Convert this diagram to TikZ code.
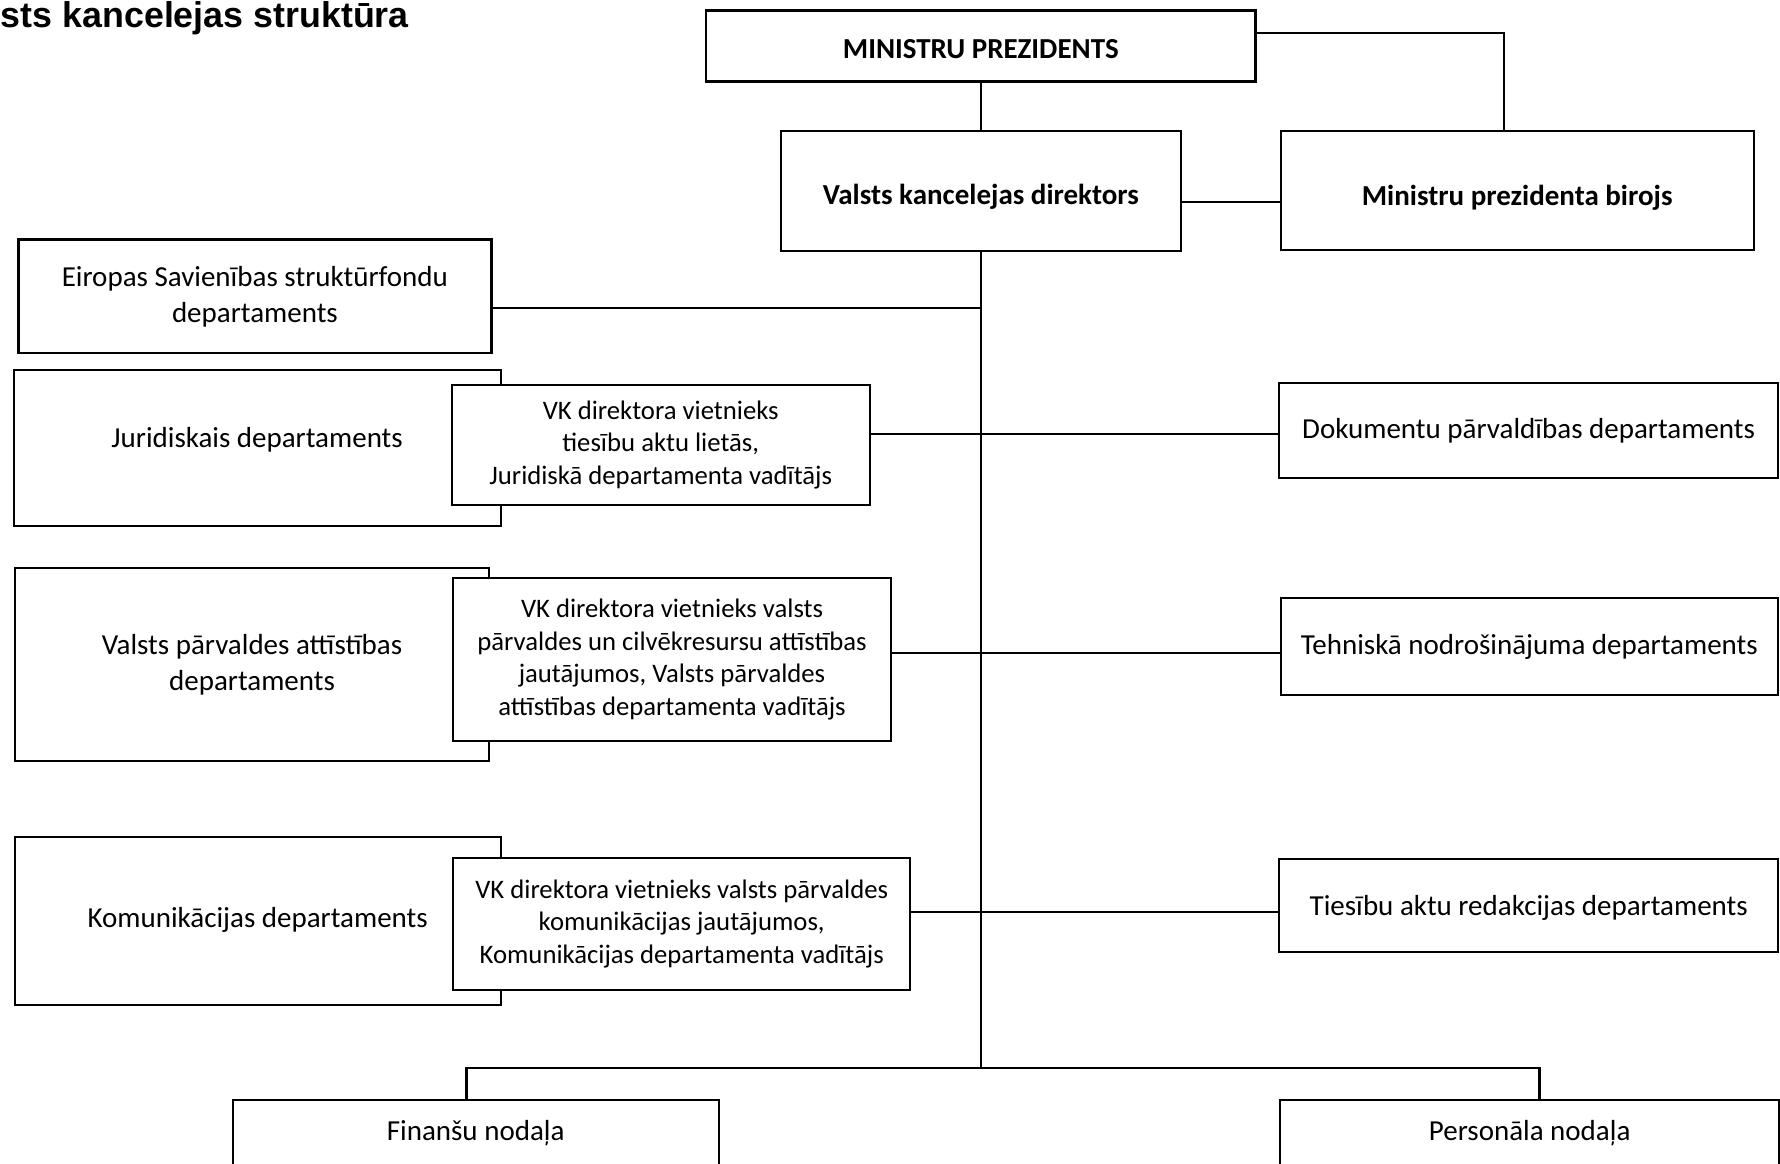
\documentclass[tikz,border=0pt]{standalone}
\usepackage{fontspec}
\setmainfont{Carlito}
\newfontfamily\titlefont{Liberation Sans}
\begin{document}
\begin{tikzpicture}[x=1pt,y=-1pt,
  box/.style={draw, line width=2pt, fill=white, inner sep=0pt, align=center,
              font=\fontsize{29}{36}\selectfont},
  boldbox/.style={box, font=\fontsize{29}{36}\selectfont\bfseries},
  vkbox/.style={box, font=\fontsize{26.7}{32.4}\selectfont},
  conn/.style={line width=2pt}]
\useasboundingbox (0,0) rectangle (1780,1163);
\clip (0,0) rectangle (1780,1163);
\fill[white] (0,0) rectangle (1780,1163);

% title
\node[anchor=base east, inner sep=0pt, font=\titlefont\bfseries\fontsize{35.8}{40}\selectfont] (title) at (409,27) {Valsts kancelejas struktūra};

% top
\node[boldbox, line width=2.8pt, minimum width=549.5pt, minimum height=71.5pt, text height=28pt, text depth=4pt] (mp) at (980.8,46) {MINISTRU PREZIDENTS};
\node[boldbox, minimum width=399.6pt, minimum height=120.4pt, text height=33.8pt, text depth=6pt] (vkd) at (980.8,190.7) {Valsts kancelejas direktors};
\node[boldbox, minimum width=473.4pt, minimum height=119.2pt, text height=35.8pt, text depth=6pt] (mpb) at (1517.2,190.1) {Ministru prezidenta birojs};

% left column
\node[box, line width=2.6pt, minimum width=473.3pt, minimum height=113.5pt] (eu) at (254.9,296.3) {Eiropas Savienības struktūrfondu\\departaments};
\node[box, line width=1.8pt, minimum width=487pt, minimum height=155.5pt, text height=20pt, text depth=21.2pt] (jur) at (257.1,447.9) {Juridiskais departaments};
\node[vkbox, minimum width=417.8pt, minimum height=120.3pt] (vk1) at (660.7,445) {VK direktora vietnieks\\tiesību aktu lietās,\\Juridiskā departamenta vadītājs};

\node[box, line width=1.8pt, minimum width=474.5pt, minimum height=193pt] (vpa) at (252,664.5) {Valsts pārvaldes attīstības\\departaments};
\node[vkbox, minimum width=438.2pt, minimum height=163.5pt] (vk2) at (672,659.6) {VK direktora vietnieks valsts\\pārvaldes un cilvēkresursu attīstības\\jautājumos, Valsts pārvaldes\\attīstības departamenta vadītājs};

\node[box, line width=1.8pt, minimum width=485.8pt, minimum height=168.1pt, text height=20pt, text depth=6.4pt] (kom) at (257.7,920.7) {Komunikācijas departaments};
\node[vkbox, minimum width=457.5pt, minimum height=131.7pt] (vk3) at (681.7,924) {VK direktora vietnieks valsts pārvaldes\\komunikācijas jautājumos,\\Komunikācijas departamenta vadītājs};

% right column
\node[box, minimum width=498.3pt, minimum height=95.3pt, text height=20pt, text depth=4pt] (dok) at (1528.6,430.3) {Dokumentu pārvaldības departaments};
\node[box, minimum width=497.5pt, minimum height=96.4pt, text height=20pt, text depth=5pt] (teh) at (1529.3,646.5) {Tehniskā nodrošinājuma departaments};
\node[box, minimum width=498.6pt, minimum height=93pt, text height=20pt, text depth=1.6pt] (ties) at (1528.7,905.9) {Tiesību aktu redakcijas departaments};

% bottom
\node[box, minimum width=485.9pt, minimum height=100pt, text height=20pt, text depth=38pt] (fin) at (475.7,1149.5) {Finanšu nodaļa};
\node[box, minimum width=498.5pt, minimum height=100pt, text height=20pt, text depth=38pt] (pers) at (1529.7,1149.5) {Personāla nodaļa};

\coordinate (bar) at (980.8,1068);

% connectors
\draw[conn] (mp.south) -- (vkd.north);
\draw[conn, line width=2.6pt] ([yshift=13pt]mp.east) -| ([xshift=-13.2pt]mpb.north);
\draw[conn, line width=2.6pt] ([yshift=-11.3pt]vkd.east) -- ([yshift=-11.3pt]vkd.east -| mpb.west);
\draw[conn] (vkd.south) -- (bar);
\draw[conn] ([yshift=-11.3pt]eu.east) -- ([yshift=-11.3pt]eu.east -| vkd.south);
\draw[conn] ([yshift=11.4pt]vk1.east) -- ([yshift=11.4pt]vk1.east -| dok.west);
\draw[conn] ([yshift=6.9pt]vk2.east) -- ([yshift=6.9pt]vk2.east -| teh.west);
\draw[conn] ([yshift=12.4pt]vk3.east) -- ([yshift=12.4pt]vk3.east -| ties.west);
\draw[conn, line width=2.6pt] ([xshift=-9.1pt]fin.north) |- (bar) -| ([xshift=9.6pt]pers.north);
\end{tikzpicture}
\end{document}
